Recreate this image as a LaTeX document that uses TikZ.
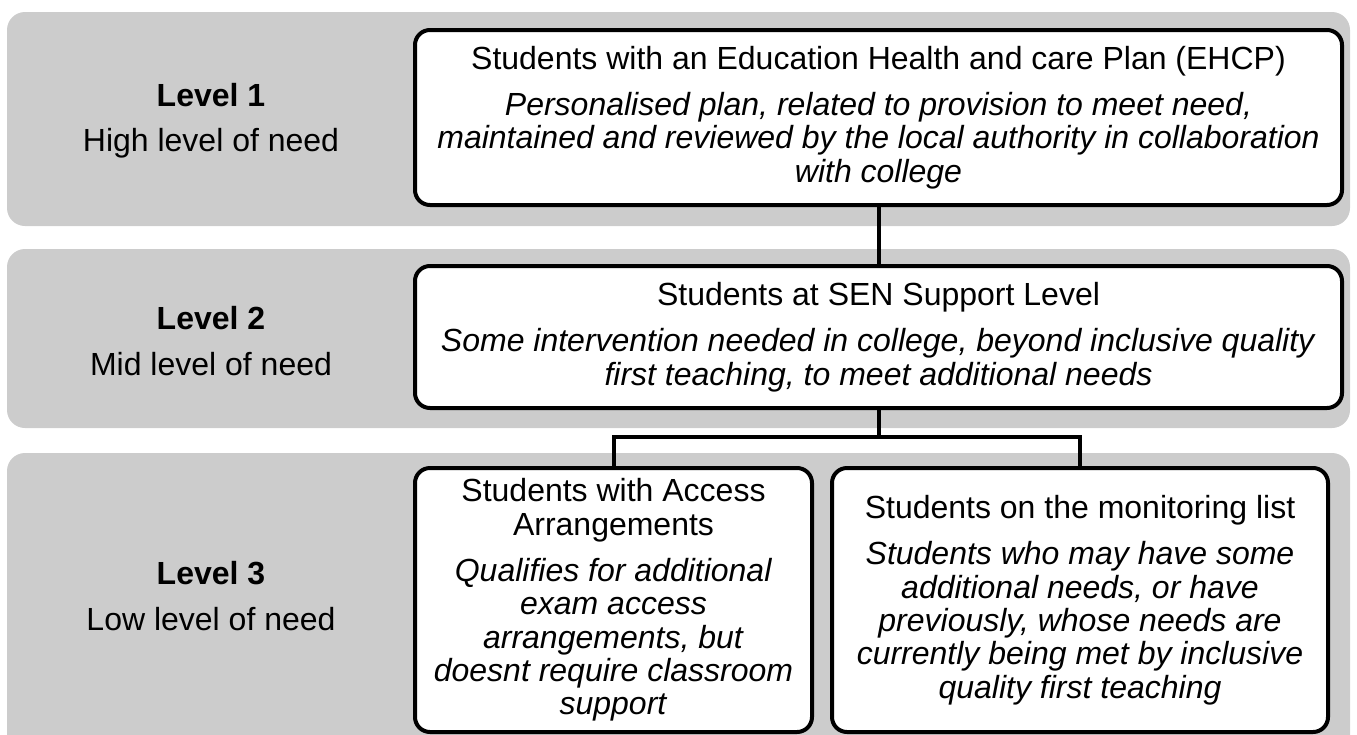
\documentclass[tikz,border=0pt]{standalone}
\usepackage{fontspec}
\setmainfont{Liberation Sans}
\definecolor{bandgray}{RGB}{204,204,204}
\begin{document}
\begin{tikzpicture}[x=1pt,y=-1pt,
  band/.style={fill=bandgray, draw=none, rounded corners=18pt},
  levelbox/.style={draw=black, fill=white, line width=4pt, rounded corners=15pt,
    align=center, inner sep=0pt, font=\fontsize{32}{33.3}\selectfont},
  levellabel/.style={align=center, font=\fontsize{32}{33.3}\selectfont},
  link/.style={draw=black, line width=4pt}]
\useasboundingbox (0,0) rectangle (1357,734);
\clip (0,0) rectangle (1357,734);

% grey bands, one per level
\path[band] (7,12) rectangle (1350,226);
\path[band] (7,249) rectangle (1350,428);
\path[band] (7,453) rectangle (1350,760);

% level captions
\node[levellabel] (lvl1) at (211,121) {\textbf{Level 1}\\[12pt]High level of need};
\node[levellabel] (lvl2) at (211,341) {\textbf{Level 2}\\[12pt]Mid level of need};
\node[levellabel] (lvl3) at (211,596) {\textbf{Level 3}\\[12pt]Low level of need};

% provision boxes
\node[levelbox, minimum width=927pt, minimum height=175pt] (ehcp) at (878.5,117.5)
  {Students with an Education Health and care Plan (EHCP)\\[13pt]
   \textit{Personalised plan, related to provision to meet need,}\\
   \textit{maintained and reviewed by the local authority in collaboration}\\
   \textit{with college}};
\node[levelbox, minimum width=927pt, minimum height=142pt] (sen) at (878.5,337)
  {Students at SEN Support Level\\[13pt]
   \textit{Some intervention needed in college, beyond inclusive quality}\\
   \textit{first teaching, to meet additional needs}};
\node[levelbox, minimum width=397pt, minimum height=264pt] (access) at (613.5,600)
  {Students with Access\\Arrangements\\[13pt]
   \textit{Qualifies for additional}\\
   \textit{exam access}\\
   \textit{arrangements, but}\\
   \textit{doesnt require classroom}\\
   \textit{support}};
\node[levelbox, minimum width=496pt, minimum height=264pt] (monitor) at (1080,600)
  {Students on the monitoring list\\[13pt]
   \textit{Students who may have some}\\
   \textit{additional needs, or have}\\
   \textit{previously, whose needs are}\\
   \textit{currently being met by inclusive}\\
   \textit{quality first teaching}};

% connectors
\coordinate (split) at (878.5,437);
\draw[link] (ehcp.south) -- (sen.north);
\draw[link] (sen.south) -- (split);
\draw[link] (split) -| (access.north);
\draw[link] (split) -| (monitor.north);
\end{tikzpicture}
\end{document}
